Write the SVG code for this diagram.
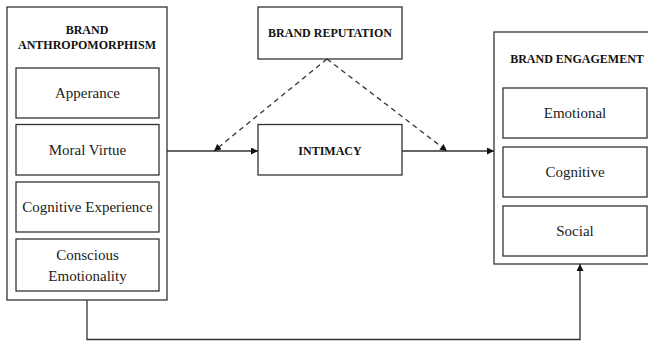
<svg xmlns="http://www.w3.org/2000/svg" width="648" height="341" viewBox="0 0 648 341">
<style>
.box{fill:#fff;stroke:#333;stroke-width:1.3}
.t{font-family:"Liberation Serif","Times New Roman",serif;font-size:15px;fill:#222;text-anchor:middle}
.h{font-family:"Liberation Serif","Times New Roman",serif;font-size:12px;font-weight:bold;fill:#111;text-anchor:middle}
.ln{fill:none;stroke:#333;stroke-width:1.3}
.ds{fill:none;stroke:#333;stroke-width:1.3;stroke-dasharray:5,4}
</style>
<defs>
<marker id="ah" viewBox="0 0 10 10" refX="10" refY="5" markerWidth="7" markerHeight="7" markerUnits="userSpaceOnUse" orient="auto">
<path d="M0,0 L10,5 L0,10 z" fill="#111"/>
</marker>
</defs>
<rect width="648" height="341" fill="#fff"/>
<g id="anthropomorphism">
<rect class="box" x="7" y="7" width="160" height="293"/>
<text class="h" x="87" y="33.5">BRAND</text>
<text class="h" x="87" y="48.5">ANTHROPOMORPHISM</text>
<rect class="box" x="16" y="68" width="143" height="50"/>
<text class="t" x="87.5" y="98">Apperance</text>
<rect class="box" x="16" y="124.5" width="143" height="50.5"/>
<text class="t" x="87.5" y="155">Moral Virtue</text>
<rect class="box" x="16" y="182" width="143" height="50"/>
<text class="t" x="87.5" y="212">Cognitive Experience</text>
<rect class="box" x="16" y="239" width="143" height="52"/>
<text class="t" x="87.5" y="259.5">Conscious</text>
<text class="t" x="87.5" y="280.5">Emotionality</text>
</g>
<g id="reputation">
<rect class="box" x="258" y="7" width="144" height="52"/>
<text class="h" x="330" y="36.5">BRAND REPUTATION</text>
</g>
<g id="intimacy">
<rect class="box" x="258" y="124.5" width="144" height="50.5"/>
<text class="h" x="330" y="154.5">INTIMACY</text>
</g>
<g id="engagement">
<rect class="box" x="494" y="32" width="166" height="232"/>
<text class="h" x="577" y="63">BRAND ENGAGEMENT</text>
<rect class="box" x="503" y="88" width="144" height="50"/>
<text class="t" x="575" y="118">Emotional</text>
<rect class="box" x="503" y="147" width="144" height="50"/>
<text class="t" x="575" y="177">Cognitive</text>
<rect class="box" x="503" y="206" width="144" height="50"/>
<text class="t" x="575" y="236">Social</text>
</g>
<g id="connectors">
<path class="ln" d="M167,151 H258" marker-end="url(#ah)"/>
<path class="ln" d="M402,151 H494" marker-end="url(#ah)"/>
<path class="ds" d="M327,59 L214,151" marker-end="url(#ah)"/>
<path class="ds" d="M327,59 L447,151" marker-end="url(#ah)"/>
<path class="ln" d="M87,300 V339.5 H580 V264" marker-end="url(#ah)"/>
</g>
</svg>
